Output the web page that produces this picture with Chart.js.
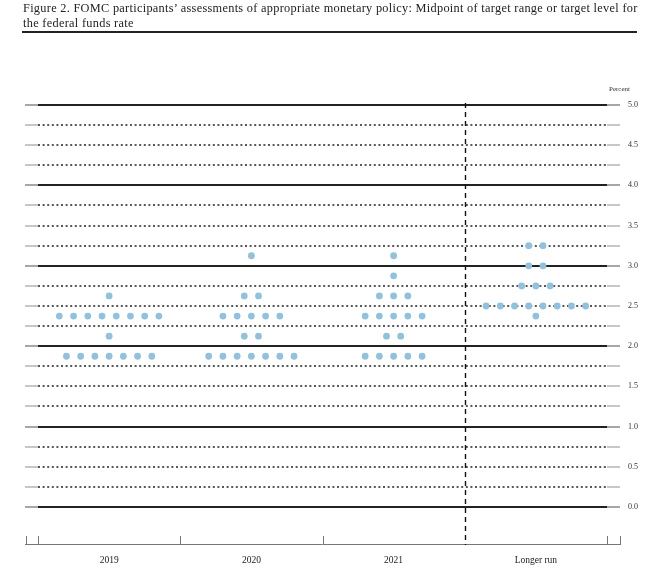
<!DOCTYPE html>
<html>
<head>
<meta charset="utf-8">
<script src="https://cdn.jsdelivr.net/npm/chart.js@4/dist/chart.umd.min.js"></script>
<style>
  html, body { margin: 0; padding: 0; background: #fff; }
  #wrap { position: relative; width: 653px; height: 573px; }
  #chart { position: absolute; left: 0; top: 0; }
  .title {
    position: absolute; left: 23px; top: 1px; width: 615px;
    font-family: "Liberation Serif", serif; font-size: 12.3px; line-height: 14.5px;
    letter-spacing: 0.3px; color: #222; white-space: nowrap;
  }
  .rule { position: absolute; left: 22px; top: 31px; width: 615px; height: 2px; background: #222; }
  .unit {
    position: absolute; left: 609px; top: 85px;
    font-family: "Liberation Serif", serif; font-size: 7px; color: #333;
  }
</style>
</head>
<body>
<div id="wrap">
  <canvas id="chart" width="653" height="573"></canvas>
  <div class="title">Figure 2. FOMC participants’ assessments of appropriate monetary policy: Midpoint of target range or target level for<br>the federal funds rate</div>
  <div class="rule"></div>
  <div class="unit">Percent</div>
</div>
<script>
const categories = ['2019', '2020', '2021', 'Longer run'];

// midpoint rates and how many participants put a dot there
const rates2019 = [1.875, 2.125, 2.375, 2.625];
const counts2019 = [7, 1, 8, 1];
const rates2020 = [1.875, 2.125, 2.375, 2.625, 3.125];
const counts2020 = [7, 2, 5, 2, 1];
const rates2021 = [1.875, 2.125, 2.375, 2.625, 2.875, 3.125];
const counts2021 = [5, 2, 5, 3, 1, 1];
const ratesLonger = [2.375, 2.5, 2.75, 3.0, 3.25];
const countsLonger = [1, 8, 3, 2, 2];

const yTicks = [0, 0.5, 1, 1.5, 2, 2.5, 3, 3.5, 4, 4.5, 5];

const groups = [
  [rates2019, counts2019],
  [rates2020, counts2020],
  [rates2021, counts2021],
  [ratesLonger, countsLonger]
];

// spread the dots of one rate side by side around the column centre
const points = [];
groups.forEach(([rates, counts], c) => {
  rates.forEach((r, k) => {
    const n = counts[k];
    for (let i = 0; i < n; i++) {
      points.push({ x: c + 0.5 + (i - (n - 1) / 2) * 0.1, y: r });
    }
  });
});

const gridPlugin = {
  id: 'fomcGrid',
  beforeDatasetsDraw(chart) {
    const { ctx, chartArea: a, scales: { x, y } } = chart;
    const x0 = x.getPixelForValue(0);
    const x4 = x.getPixelForValue(4);
    ctx.save();
    for (let i = 0; i <= 20; i++) {
      const v = i * 0.25;
      const py = Math.round(y.getPixelForValue(v));
      const whole = i % 4 === 0;
      ctx.setLineDash([]);
      ctx.lineWidth = 1.5;
      ctx.strokeStyle = whole ? '#8a8a8a' : '#b5b5b5';
      ctx.beginPath();
      ctx.moveTo(a.left, py); ctx.lineTo(x0, py);
      ctx.moveTo(x4, py); ctx.lineTo(a.right, py);
      ctx.stroke();
      ctx.strokeStyle = '#222';
      if (whole) {
        ctx.lineWidth = 1.8;
      } else {
        ctx.lineWidth = 1.5;
        ctx.setLineDash([2, 2.6]);
      }
      ctx.beginPath();
      ctx.moveTo(x0, py); ctx.lineTo(x4, py);
      ctx.stroke();
    }

    // bottom axis with its tick marks
    ctx.setLineDash([]);
    ctx.lineWidth = 1;
    ctx.strokeStyle = '#777';
    ctx.beginPath();
    ctx.moveTo(a.left, a.bottom - 0.5); ctx.lineTo(a.right, a.bottom - 0.5);
    [a.left + 0.5, x0, x.getPixelForValue(1), x.getPixelForValue(2), x4, a.right - 0.5].forEach(px => {
      const p = Math.round(px) + 0.5;
      ctx.moveTo(p, a.bottom); ctx.lineTo(p, a.bottom - 9);
    });
    ctx.stroke();

    // dashed separator before the longer run
    const xs = Math.round(x.getPixelForValue(3)) + 0.5;
    ctx.strokeStyle = '#111';
    ctx.lineWidth = 1.4;
    ctx.setLineDash([5, 4]);
    ctx.beginPath();
    ctx.moveTo(xs, a.top - 2); ctx.lineTo(xs, a.bottom);
    ctx.stroke();
    ctx.restore();
  }
};

new Chart(document.getElementById('chart'), {
  type: 'scatter',
  data: {
    datasets: [{
      data: points,
      pointRadius: 3.4,
      pointBackgroundColor: '#93c1dc',
      pointBorderWidth: 0,
      pointHoverRadius: 3.4
    }]
  },
  options: {
    responsive: false,
    animation: false,
    layout: { padding: { left: 25, top: 105, right: 0, bottom: 0 } },
    plugins: { legend: { display: false }, tooltip: { enabled: false } },
    scales: {
      x: {
        type: 'linear',
        min: -0.0914,
        max: 4.0914,
        grid: { display: false, drawTicks: false },
        border: { display: false },
        afterFit(scale) { scale.height = 28; },
        afterBuildTicks(scale) {
          scale.ticks = categories.map((c, i) => ({ value: i + 0.5 }));
        },
        ticks: {
          padding: 10,
          color: '#222',
          font: { family: 'Liberation Serif', size: 9.5 },
          callback: v => categories[Math.floor(v)]
        }
      },
      y: {
        position: 'right',
        min: -0.473,
        max: 5,
        grid: { display: false, drawTicks: false },
        border: { display: false },
        afterFit(scale) { scale.width = 33; },
        afterBuildTicks(scale) {
          scale.ticks = yTicks.map(v => ({ value: v }));
        },
        ticks: {
          padding: 8,
          color: '#333',
          font: { family: 'Liberation Serif', size: 8 },
          callback: v => v.toFixed(1)
        }
      }
    }
  },
  plugins: [gridPlugin]
});
</script>
</body>
</html>
